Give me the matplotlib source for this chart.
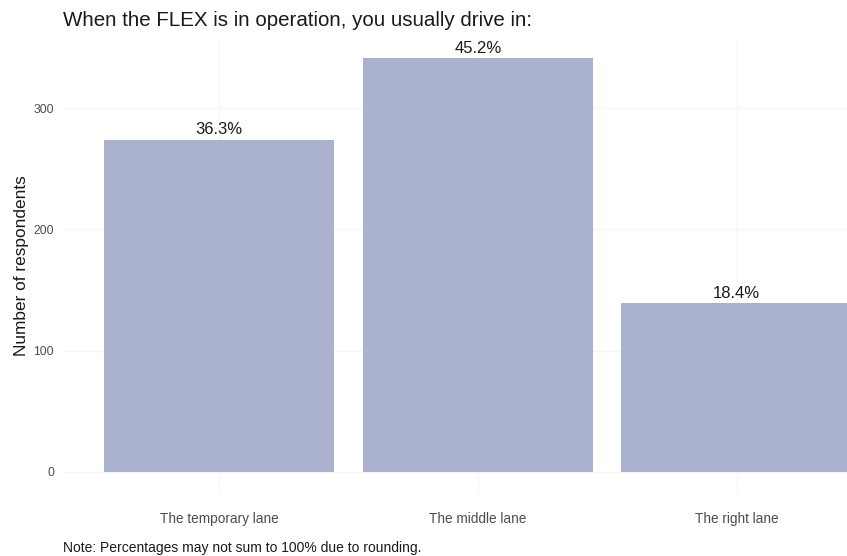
import matplotlib
matplotlib.use("Agg")
import matplotlib.pyplot as plt

plt.rcParams['font.family'] = ['Liberation Sans', 'DejaVu Sans']

# Data
lanes = ["The temporary lane", "The middle lane", "The right lane"]
respondents = [274, 341, 139]
percent_labels = ["36.3%", "45.2%", "18.4%"]

bar_color = "#aab2cf"

fig = plt.figure(figsize=(8.47, 5.56), dpi=100)
# axes runs a little past the right edge, like the original
ax = fig.add_axes([0.0751, 0.114, 0.978, 0.818])

x = range(1, len(lanes) + 1)
ax.bar(x, respondents, width=0.89, color=bar_color, zorder=2)

for xi, v, lab in zip(x, respondents, percent_labels):
    ax.text(xi, v + 2, lab, ha="center", va="bottom", fontsize=12, color="#1a1a1a", zorder=3)

ax.set_xlim(0.4, 3.6)
ax.set_ylim(-17, 358)
ax.set_xticks(list(x))
ax.set_xticklabels(lanes, fontsize=9.8, color="#4d4d4d")
ax.set_yticks([0, 100, 200, 300])
ax.set_yticklabels(["0", "100", "200", "300"], fontsize=8.8, color="#4d4d4d")
ax.tick_params(axis="x", length=0, pad=14)
ax.tick_params(axis="y", length=0, pad=7)

# very faint grid, almost white
ax.grid(True, color="#f6f6f6", linewidth=1.0, zorder=0)
for s in ax.spines.values():
    s.set_visible(False)

ax.set_ylabel("Number of respondents", fontsize=12.4, color="#1a1a1a")
ax.yaxis.set_label_coords(-0.0415, 0.5)

fig.text(0.0744, 0.964, "When the FLEX is in operation, you usually drive in:",
         fontsize=14.8, ha="left", va="center", color="#1a1a1a")
fig.text(0.0744, 0.0144, "Note: Percentages may not sum to 100% due to rounding.",
         fontsize=10, ha="left", va="center", color="#1a1a1a")

fig.savefig("out.png", dpi=100)
